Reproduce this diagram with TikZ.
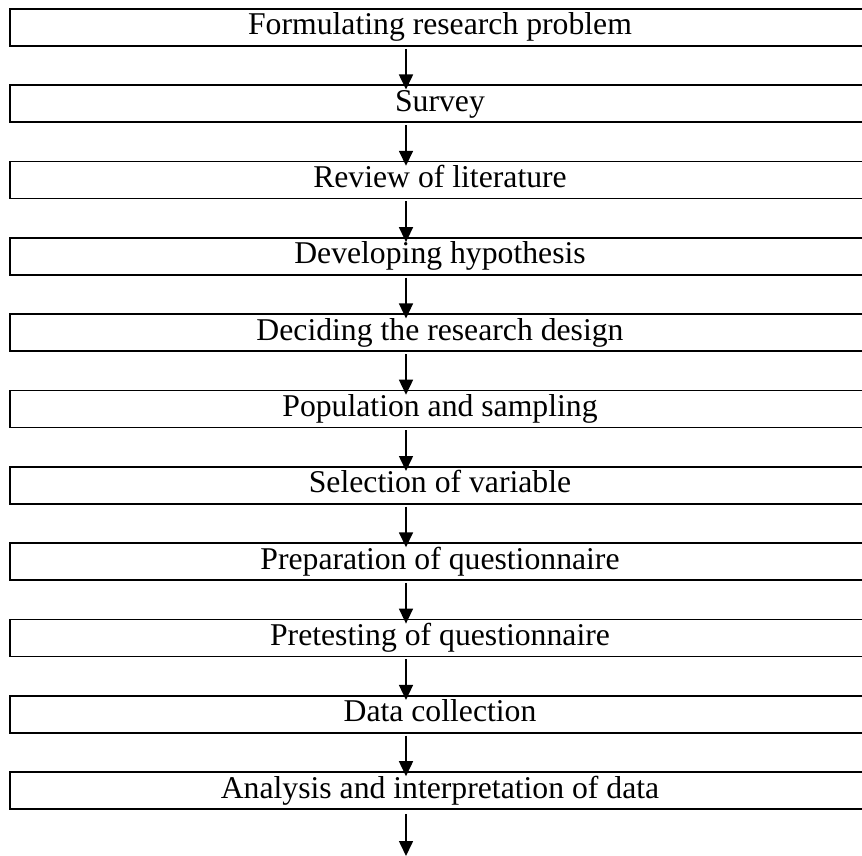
\documentclass[tikz,border=0pt]{standalone}
\usepackage{fontspec}
\setmainfont{Liberation Serif}
\usetikzlibrary{arrows.meta}
\tikzset{
  stagebox/.style={draw,line width=1.6pt,minimum width=860pt,minimum height=37pt,
    inner sep=0pt,text height=26pt,text depth=11pt,font=\fontsize{31.7}{34}\selectfont},
  flow/.style={line width=1.6pt,-{Triangle[length=15pt,width=14pt]}}
}
\begin{document}
\begin{tikzpicture}[x=1pt,y=-1pt]
  \useasboundingbox (0,0) rectangle (862,856);
  \foreach \label [count=\i] in {Formulating research problem, Survey, Review of literature,
      Developing hypothesis, Deciding the research design, Population and sampling,
      Selection of variable, Preparation of questionnaire, Pretesting of questionnaire,
      Data collection, Analysis and interpretation of data} {
    \node[stagebox] (stage\i) at (440,{27.5+76.3*(\i-1)}) {\label};
  }
  \foreach \i [evaluate=\i as \j using int(\i+1)] in {1,...,10} {
    \draw[flow] (stage\i.south -| 406,0) ++(0,2) -- ([yshift=-5pt]stage\j.north -| 406,0);
  }
  \coordinate (finish) at (406,856);
  \draw[flow] (stage11.south -| 406,0) ++(0,4) -- (finish);
\end{tikzpicture}
\end{document}
